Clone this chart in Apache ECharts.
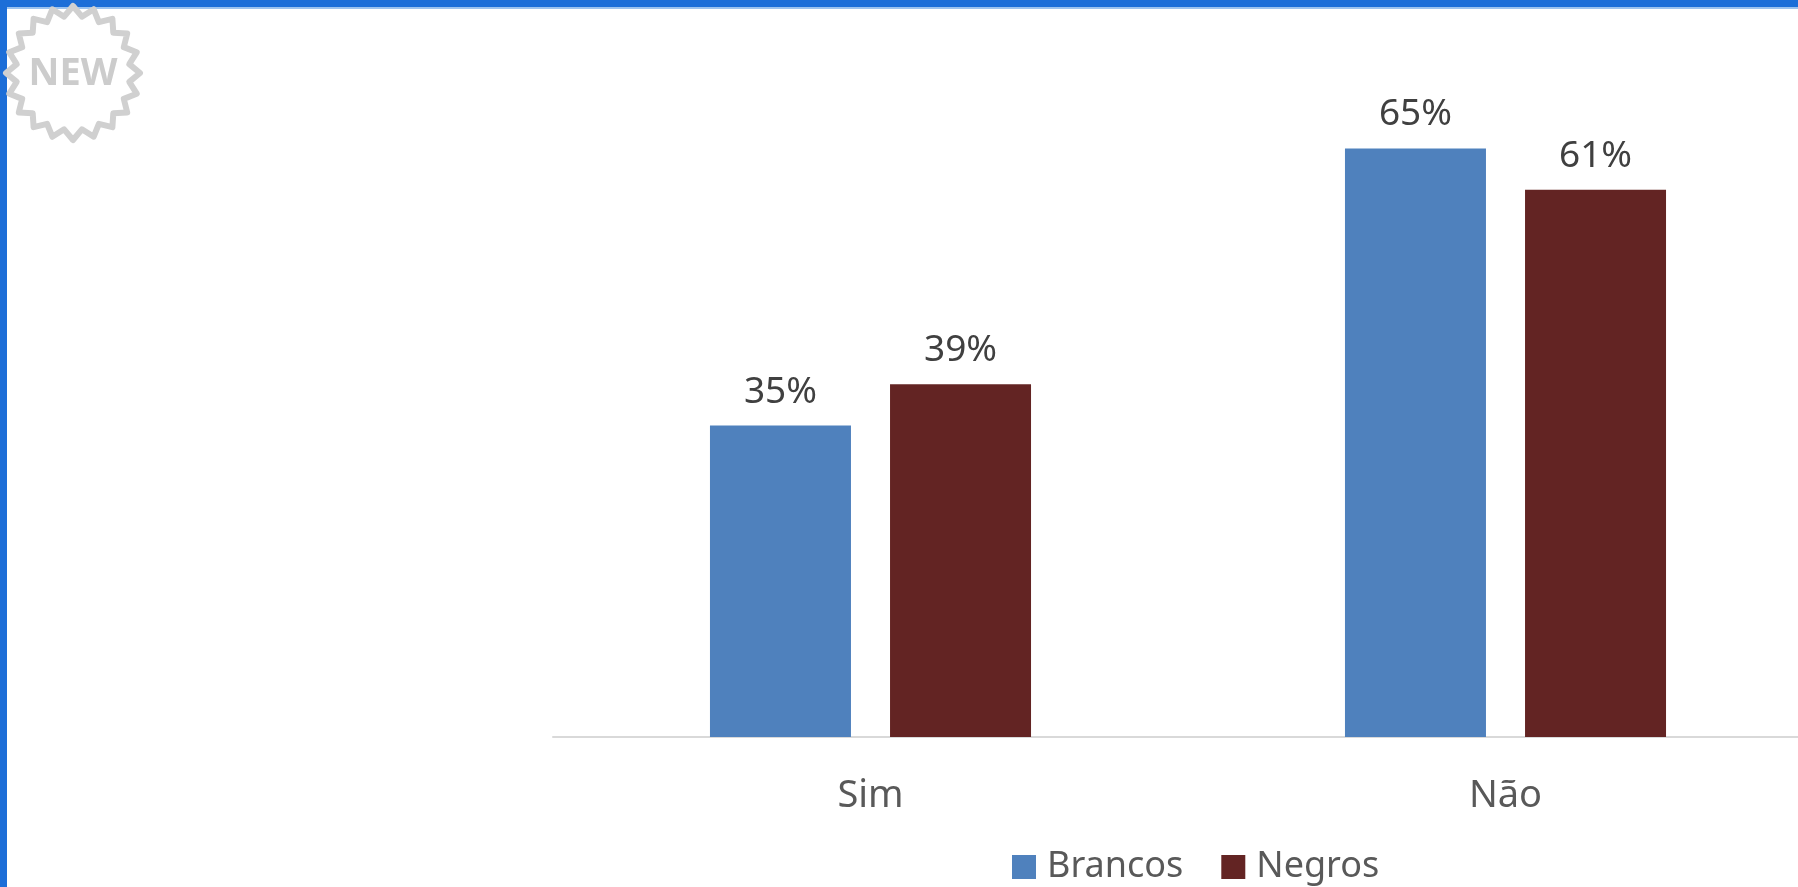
<!DOCTYPE html>
<html>
<head>
<meta charset="utf-8">
<script src="https://cdn.jsdelivr.net/npm/echarts@6/dist/echarts.min.js"></script>
<style>
html,body{margin:0;padding:0;background:#fff;}
#chart{width:1798px;height:887px;}
</style>
</head>
<body>
<div id="chart"></div>
<script>
const categories = ['Sim', 'Não'];
const seriesNames = ['Brancos', 'Negros'];
const brancos = [34.6, 65.4];
const negros = [39.2, 60.8];
const colors = ['#4f81bd', '#632423'];

const FONT = 'Noto Sans';

// decorative starburst badge
function starPoints(cx, cy, rOut, rIn, n) {
  const pts = [];
  for (let i = 0; i < n * 2; i++) {
    const a = Math.PI * i / n - Math.PI / 2;
    const r = i % 2 === 0 ? rOut : rIn;
    pts.push([cx + r * Math.cos(a), cy + r * Math.sin(a)]);
  }
  return pts;
}

const pctLabel = p => Math.round(p.value) + '%';

const chart = echarts.init(document.getElementById('chart'), null, {renderer: 'canvas'});
chart.setOption({
  backgroundColor: '#ffffff',
  animation: false,
  grid: {left: 553, width: 1270, top: 107, height: 630, containLabel: false, outerBoundsMode: 'none'},
  legend: {
    data: seriesNames,
    left: 1012,
    top: 849,
    padding: 0,
    itemWidth: 24,
    itemHeight: 24,
    itemGap: 38,
    icon: 'rect',
    textStyle: {fontFamily: FONT, fontSize: 36, color: '#595959', padding: [0, 0, 0, 6]}
  },
  xAxis: {
    type: 'category',
    data: categories,
    axisTick: {show: false},
    axisLine: {lineStyle: {color: '#d9d9d9', width: 2}},
    axisLabel: {fontFamily: FONT, fontSize: 38, color: '#595959', margin: 40}
  },
  yAxis: {
    type: 'value',
    min: 0,
    max: 70,
    show: false,
    splitLine: {show: false}
  },
  series: [
    {
      name: seriesNames[0], type: 'bar', data: brancos,
      barWidth: 141, barGap: '27.7%',
      itemStyle: {color: colors[0]},
      label: {show: true, position: 'top', distance: 15, formatter: pctLabel, fontFamily: FONT, fontSize: 37, color: '#404040'}
    },
    {
      name: seriesNames[1], type: 'bar', data: negros,
      barWidth: 141, barGap: '27.7%',
      itemStyle: {color: colors[1]},
      label: {show: true, position: 'top', distance: 15, formatter: pctLabel, fontFamily: FONT, fontSize: 37, color: '#404040'}
    }
  ],
  graphic: [
    {type: 'rect', left: 0, top: 0, shape: {width: 1798, height: 7}, style: {fill: '#1c6ed8'}, silent: true},
    {type: 'rect', left: 0, top: 7, shape: {width: 1798, height: 2}, style: {fill: '#9cc3ef'}, silent: true},
    {type: 'rect', left: 0, top: 0, shape: {width: 7, height: 887}, style: {fill: '#1c6ed8'}, silent: true},
    {type: 'polygon', shape: {points: starPoints(73, 73, 67, 57, 20)}, style: {fill: 'none', stroke: '#d0d0d0', lineWidth: 6, lineJoin: 'round'}, silent: true},
    {type: 'text', x: 73, y: 74, style: {text: 'NEW', fontFamily: FONT, fontWeight: 'bold', fontSize: 38, fill: '#cccccc', align: 'center', verticalAlign: 'middle'}, silent: true}
  ]
});
</script>
</body>
</html>
